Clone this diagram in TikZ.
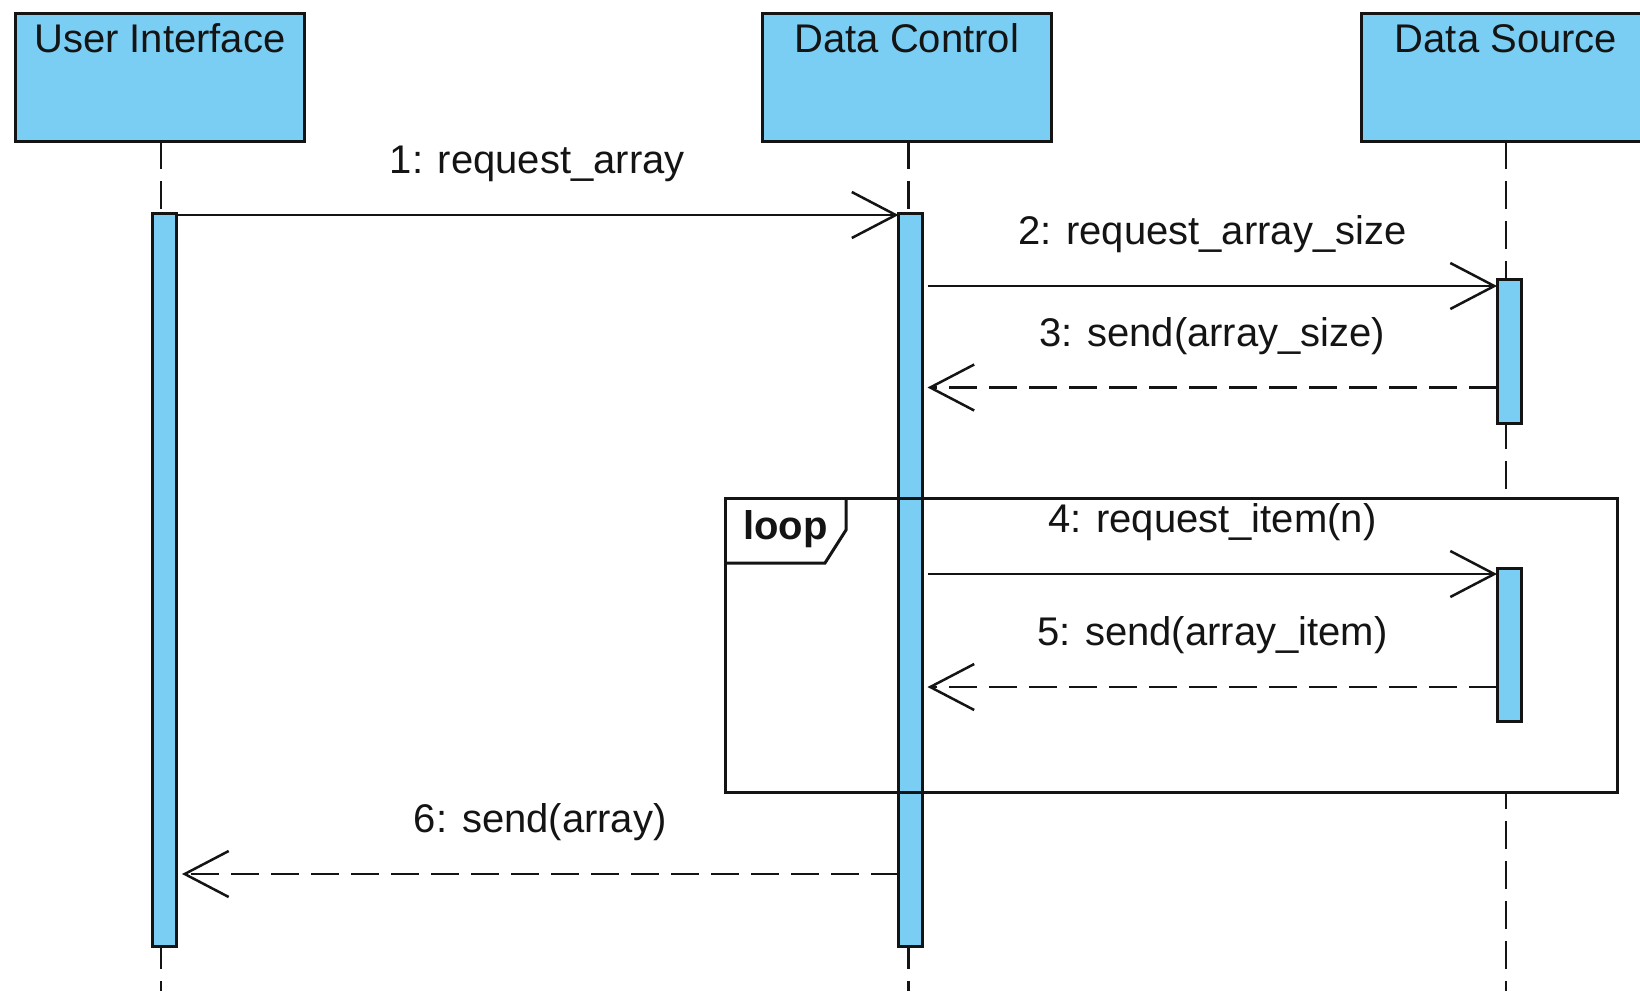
\documentclass[tikz,border=0pt]{standalone}
\usepackage{fontspec}
\setmainfont{Liberation Sans}
\usetikzlibrary{arrows.meta}
\definecolor{lifefill}{RGB}{122,206,243}
\definecolor{ink}{RGB}{20,20,20}

\begin{document}
\begin{tikzpicture}[x=1pt,y=-1pt,
  every node/.style={inner sep=0pt, outer sep=0pt, text=ink},
  bigtext/.style={font=\fontsize{40}{48}\selectfont},
  headbox/.style={draw=ink, line width=3pt, fill=lifefill,
    minimum width=288.5pt, minimum height=128pt},
  actbar/.style={draw=ink, line width=3pt, fill=lifefill, minimum width=24pt},
  lifeline/.style={draw=ink, line width=2.8pt, dash pattern=on 28pt off 12pt},
  frameline/.style={draw=ink, line width=3pt},
  call/.style={draw=ink, line width=2.5pt, -{Straight Barb[length=44pt,width=46pt]}},
  reply/.style={call, dash pattern=on 28pt off 12pt},
  msglabel/.style={bigtext, anchor=base, yshift=41.5pt},
  headtitle/.style={bigtext, anchor=base, yshift=-39.6pt},
]
\useasboundingbox (0,0) rectangle (1640,991);
\clip (0,0) rectangle (1640,991);

% lifeline heads
\node[headbox, label={[headtitle]north:User Interface}] (ui) at (159.75,77.15) {};
\node[headbox, label={[headtitle]north:Data Control}] (dc) at (906.8,77.15) {};
\node[headbox, label={[headtitle]north:Data Source}] (ds) at (1506,77.15) {};

% dashed lifelines
\draw[lifeline] ([xshift=1.2pt]ui.south) -- ([xshift=1.2pt]ui.south |- 0,991);
\draw[lifeline] ([xshift=1.7pt]dc.south) -- ([xshift=1.7pt]dc.south |- 0,991);
\draw[lifeline] (ds.south) -- (ds.south |- 0,991);

% loop fragment background (hides the lifeline inside it)
\node[fill=white, minimum width=892.5pt, minimum height=294pt, anchor=north west]
  (loop) at (725,498) {};

% activation bars
\node[actbar, minimum height=733pt] (uiact) at (164,580) {};
\node[actbar, minimum height=733pt] (dcact) at (910.5,580) {};
\node[actbar, minimum height=144.5pt] (dsact1) at (1509,351.6) {};
\node[actbar, minimum height=153.5pt] (dsact2) at (1509,645) {};

% loop fragment frame and its tag
\draw[frameline] (loop.north west) rectangle (loop.south east);
\draw[frameline] ([xshift=121pt]loop.north west) -- ++(0,32) -- ++(-21,33) -- ++(-100,0);
\node[anchor=base west, font=\bfseries\fontsize{40}{48}\selectfont] (looptag) at (743,539) {loop};

% message rows and offset end points
\coordinate (y1) at (0,215);
\coordinate (y2) at (0,286);
\coordinate (y3) at (0,387.5);
\coordinate (y4) at (0,574);
\coordinate (y5) at (0,687);
\coordinate (y6) at (0,874);
\coordinate (dcR) at ([xshift=5pt]dcact.east);
\coordinate (uiR) at ([xshift=6pt]uiact.east);

% messages
\draw[call] (uiact.east |- y1) -- node[msglabel]{1: request\_array} (dcact.west |- y1);
\draw[call] (dcR |- y2) -- node[msglabel]{2: request\_array\_size} (dsact1.west |- y2);
\draw[reply] (dsact1.west |- y3) -- node[msglabel]{3: send(array\_size)} (dcR |- y3);
\draw[call] (dcR |- y4) -- node[msglabel]{4: request\_item(n)} (dsact2.west |- y4);
\draw[reply] (dsact2.west |- y5) -- node[msglabel]{5: send(array\_item)} (dcR |- y5);
\draw[reply] (dcact.west |- y6) -- node[msglabel]{6: send(array)} (uiR |- y6);
\end{tikzpicture}
\end{document}
